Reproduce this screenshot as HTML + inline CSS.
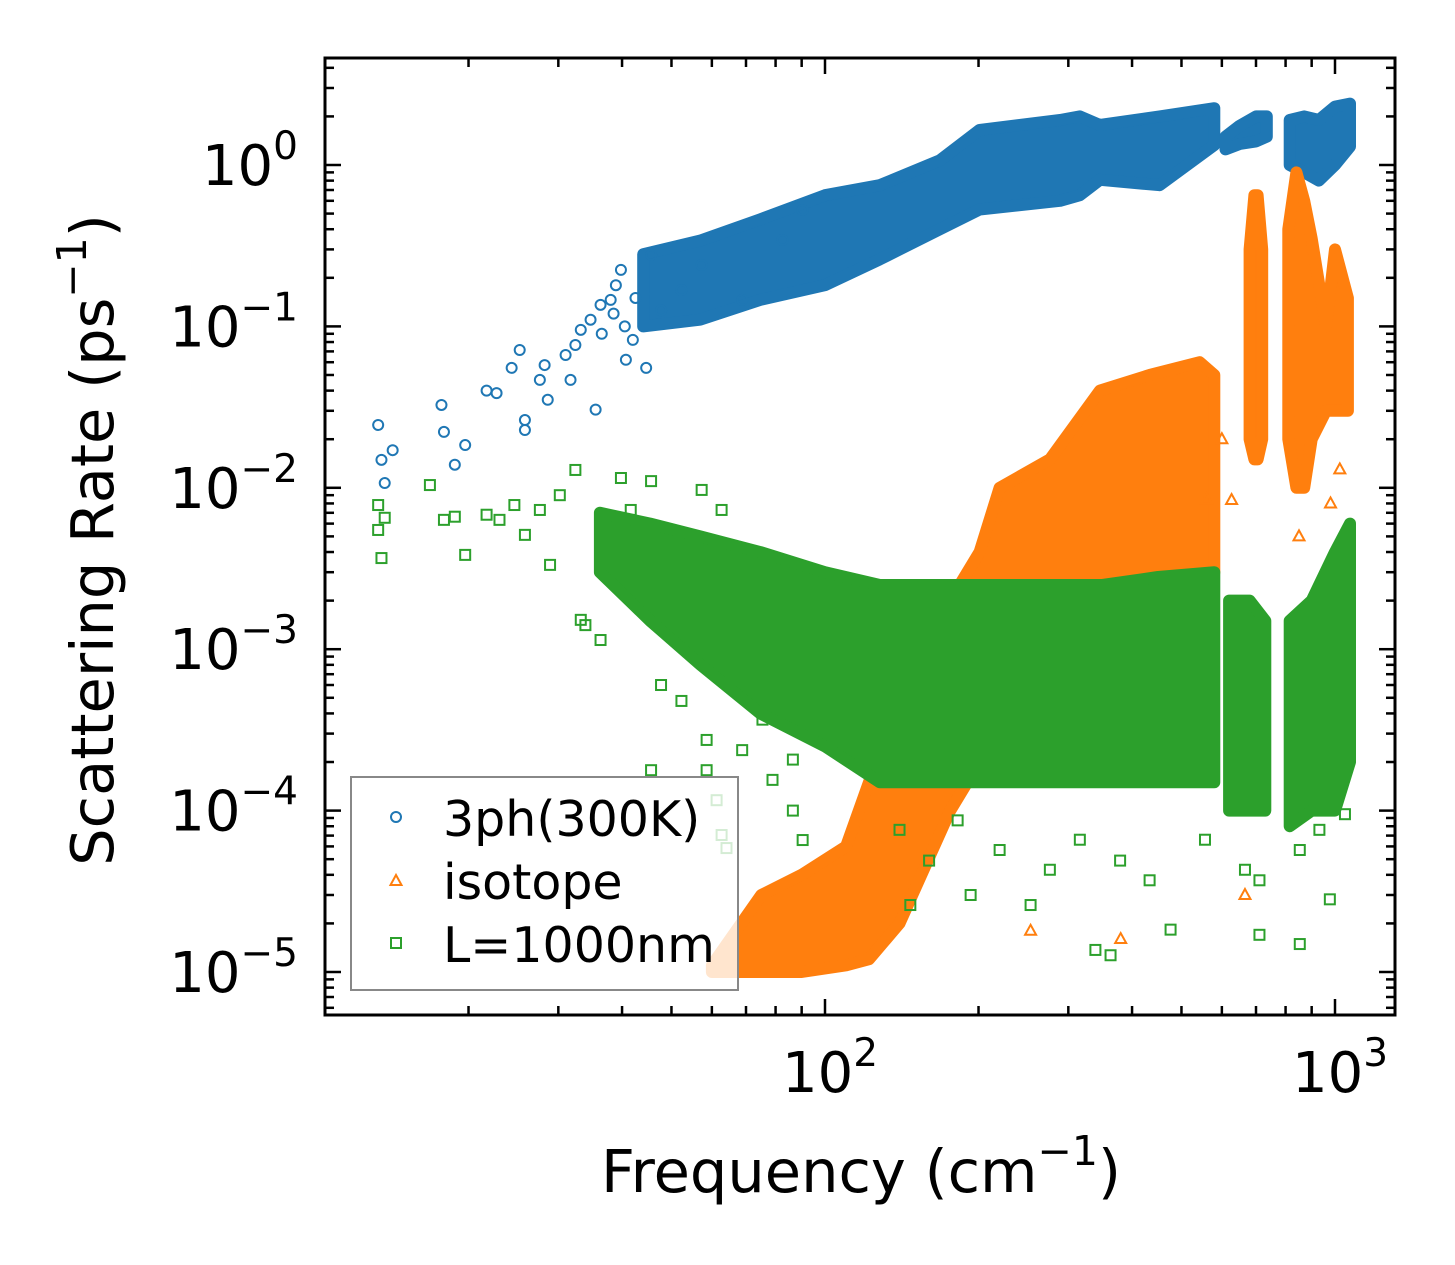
<!DOCTYPE html>
<html><head><meta charset="utf-8">
<style>
html,body{margin:0;padding:0;background:#fff;}
svg{display:block;font-family:"DejaVu Sans","Liberation Sans",sans-serif;}
</style></head>
<body>
<svg id="chart" width="1455" height="1265" viewBox="0 0 1455 1265" xmlns="http://www.w3.org/2000/svg">
<rect x="0" y="0" width="1455" height="1265" fill="#fff"/>
<g id="plot"></g>
<g id="axes"></g>
</svg>
<script>
// ---- data ----
const blueBandF  = [44,56.9,74.6,100,128,168,201,289,316,346,453,580];
const blueBandHi = [0.28,0.34,0.46,0.65,0.75,1.07,1.65,1.9,2.0,1.77,2.0,2.25];
const blueBandLo = [0.1,0.11,0.146,0.18,0.26,0.40,0.53,0.6,0.65,0.81,0.75,1.33];
const blueBlob2F  = [610,650,700,735];
const blueBlob2Hi = [1.5,1.75,2.0,2.0];
const blueBlob2Lo = [1.25,1.35,1.4,1.5];
const blueBlob3F  = [815,870,930,1000,1070];
const blueBlob3Hi = [1.9,2.0,1.9,2.3,2.4];
const blueBlob3Lo = [1.0,0.9,0.8,1.0,1.3];
const bluePtsF = [13.3,13.5,14.2,13.7,17.7,17.9,18.8,19.7,21.7,22.7,24.3,25.2,25.8,25.8,27.6,28.2,28.6,31.0,31.7,32.4,33.2,34.7,35.5,36.3,38.0,38.9,39.8,40.7,42.0,44.6,45.6,47.7,52.3,57.3,68.8,82.5,90.4,36.5,38.5,40.5,42.5];
const bluePtsR = [0.0245,0.0149,0.0171,0.0107,0.0326,0.0222,0.0139,0.0184,0.040,0.0386,0.0553,0.0714,0.0228,0.0263,0.0466,0.0576,0.0351,0.0665,0.0466,0.0767,0.0952,0.110,0.0305,0.136,0.146,0.180,0.224,0.0621,0.0825,0.0553,0.277,0.126,0.168,0.240,0.146,0.343,0.526,0.09,0.12,0.1,0.15];

const orangeBandF  = [60,75,90,110,122,140,176,201,220,276,346,433,543,580];
const orangeBandHi = [1.1e-5,3e-5,4e-5,6e-5,1.5e-4,5e-4,2e-3,4e-3,1e-2,1.5e-2,4e-2,5e-2,6e-2,5e-2];
const orangeBandLo = [1e-5,1e-5,1e-5,1.1e-5,1.2e-5,2e-5,1e-4,2e-4,2.5e-4,3e-4,3e-4,5e-4,1e-3,3e-3];
const orangeSpike1F  = [680,695,705,720];
const orangeSpike1Hi = [0.3,0.65,0.65,0.3];
const orangeSpike1Lo = [0.02,0.015,0.015,0.02];
const orangeSpike2F  = [810,840,870,900,960,1000,1060];
const orangeSpike2Hi = [0.4,0.9,0.6,0.35,0.1,0.3,0.15];
const orangeSpike2Lo = [0.02,0.01,0.01,0.02,0.03,0.03,0.03];
const orangePtsF = [253,380,666,627,1022,560,600,850,980];
const orangePtsR = [1.8e-5,1.6e-5,3e-5,0.0084,0.013,0.0085,0.02,0.005,0.008];

const greenBandF  = [36.2,45.4,57,74.6,100,128,168,250,350,450,580];
const greenBandHi = [7e-3,6e-3,5e-3,4e-3,3e-3,2.5e-3,2.5e-3,2.5e-3,2.5e-3,2.8e-3,3e-3];
const greenBandLo = [3e-3,1.5e-3,8e-4,4e-4,2.5e-4,1.5e-4,1.5e-4,1.5e-4,1.5e-4,1.5e-4,1.5e-4];
const greenBlob2F  = [620,680,730];
const greenBlob2Hi = [2e-3,2e-3,1.5e-3];
const greenBlob2Lo = [1e-4,1e-4,1e-4];
const greenBlob3F  = [815,900,1000,1070];
const greenBlob3Hi = [1.5e-3,2e-3,4e-3,6e-3];
const greenBlob3Lo = [8e-5,1e-4,1e-4,2e-4];
const greenPtsF = [13.3,13.3,13.5,13.7,16.8,17.9,18.8,19.7,21.7,23.0,24.6,25.8,27.6,28.9,30.2,32.4,33.2,33.9,36.3,39.8,41.6,45.6,47.7,52.3,57.3,58.6,62.7,68.8,75.4,78.9,86.5,97.8,45.6,58.6,61.3,62.7,64.1,86.5,90.4,147,193,253,339,363,476,711,853,977,140,160,182,220,276,316,379,433,556,666,711,853,932,1046];
const greenPtsR = [0.00782,0.00548,0.00367,0.00652,0.0104,0.00633,0.00662,0.00384,0.00681,0.00633,0.00782,0.00511,0.00729,0.00333,0.009,0.0129,0.00152,0.00141,0.00114,0.0115,0.00729,0.011,0.0006,0.000478,0.0097,0.000274,0.00729,0.000237,0.000366,0.000155,0.000207,0.000274,0.000178,0.000178,0.000116,0.0000706,0.0000586,0.0001,0.0000657,0.000026,0.00003,0.000026,0.0000137,0.0000127,0.0000183,0.000017,0.0000149,0.0000282,7.6e-5,4.9e-5,8.7e-5,5.7e-5,4.3e-5,6.6e-5,4.9e-5,3.7e-5,6.6e-5,4.3e-5,3.7e-5,5.7e-5,7.6e-5,9.5e-5];

const xTickVals = [100,1000];
const xTickExp  = ["2","3"];
const yTickVals = [1,0.1,0.01,0.001,0.0001,0.00001];
const yTickExp  = ["0","\u22121","\u22122","\u22123","\u22124","\u22125"];

// ---- axes ----
const L=325,R=1395,T=58,B=1015;
const xs = f => 825 + (Math.log10(f)-2)*510;
const ys = r => 165 - Math.log10(r)*161.4;
const NS="http://www.w3.org/2000/svg";
const plot=document.getElementById('plot'), axes=document.getElementById('axes');
function mk(tag, attrs, parent){const e=document.createElementNS(NS,tag);for(const k in attrs)e.setAttribute(k,attrs[k]);parent.appendChild(e);return e;}

function band(F,Hi,Lo,color,name){
  const pts=[];
  for(let i=0;i<F.length;i++) pts.push(xs(F[i]).toFixed(1)+','+ys(Hi[i]).toFixed(1));
  for(let i=F.length-1;i>=0;i--) pts.push(xs(F[i]).toFixed(1)+','+ys(Lo[i]).toFixed(1));
  const p=mk('polygon',{points:pts.join(' '),fill:color,stroke:color,'stroke-width':12,'stroke-linejoin':'round'},plot);
  
  
}
function pts(F,Rr,color,shape,name){
  for(let i=0;i<F.length;i++){
    const x=xs(F[i]), y=ys(Rr[i]); let e;
    if(shape==='c') e=mk('circle',{cx:x,cy:y,r:5,fill:'none',stroke:color,'stroke-width':2},plot);
    else if(shape==='s') e=mk('rect',{x:x-5,y:y-5,width:10,height:10,fill:'none',stroke:color,'stroke-width':2},plot);
    else e=mk('polygon',{points:`${x},${y-6} ${x-5.5},${y+4} ${x+5.5},${y+4}`,fill:'none',stroke:color,'stroke-width':2},plot);
    
    
  }
}
const BLUE='#1f77b4', ORANGE='#ff7f0e', GREEN='#2ca02c';
band(blueBandF,blueBandHi,blueBandLo,BLUE,'3ph-band');
band(blueBlob2F,blueBlob2Hi,blueBlob2Lo,BLUE,'3ph-band');
band(blueBlob3F,blueBlob3Hi,blueBlob3Lo,BLUE,'3ph-band');
pts(bluePtsF,bluePtsR,BLUE,'c','3ph-point');
band(orangeBandF,orangeBandHi,orangeBandLo,ORANGE,'isotope-band');
band(orangeSpike1F,orangeSpike1Hi,orangeSpike1Lo,ORANGE,'isotope-band');
band(orangeSpike2F,orangeSpike2Hi,orangeSpike2Lo,ORANGE,'isotope-band');
pts(orangePtsF,orangePtsR,ORANGE,'t','isotope-point');
band(greenBandF,greenBandHi,greenBandLo,GREEN,'boundary-band');
band(greenBlob2F,greenBlob2Hi,greenBlob2Lo,GREEN,'boundary-band');
band(greenBlob3F,greenBlob3Hi,greenBlob3Lo,GREEN,'boundary-band');
pts(greenPtsF,greenPtsR,GREEN,'s','boundary-point');

// clip overflow: white masks outside frame
mk('rect',{x:0,y:0,width:1455,height:T,fill:'#fff'},axes);
mk('rect',{x:0,y:B,width:1455,height:1265-B,fill:'#fff'},axes);
mk('rect',{x:R,y:0,width:60,height:1265,fill:'#fff'},axes);

// frame
const fr=mk('rect',{x:L,y:T,width:R-L,height:B-T,fill:'none',stroke:'#000','stroke-width':3},axes);



// ticks
function tickX(x,len){mk('line',{x1:x,y1:B,x2:x,y2:B-len,stroke:'#000','stroke-width':2.5},axes);mk('line',{x1:x,y1:T,x2:x,y2:T+len,stroke:'#000','stroke-width':2.5},axes);}
function tickY(y,len){mk('line',{x1:L,y1:y,x2:L+len,y2:y,stroke:'#000','stroke-width':2.5},axes);mk('line',{x1:R,y1:y,x2:R-len,y2:y,stroke:'#000','stroke-width':2.5},axes);}
for(let d=1;d<=3;d++)for(let m=1;m<10;m++){const v=m*Math.pow(10,d);const x=xs(v);if(x>L+2&&x<R-2)tickX(x,m===1?16:9);}
for(let d=-6;d<=0;d++)for(let m=1;m<10;m++){const v=m*Math.pow(10,d);const y=ys(v);if(y>T+2&&y<B-2)tickY(y,m===1?16:9);}

// tick labels
xTickVals.forEach((v,i)=>{
  const t=mk('text',{x:xs(v)+5,y:1092,'font-size':56,'text-anchor':'middle',fill:'#000'},axes);
  
  
  t.innerHTML='10<tspan font-size="39" dy="-26">'+xTickExp[i]+'</tspan>';
});
yTickVals.forEach((v,i)=>{
  const t=mk('text',{x:298,y:ys(v)+20,'font-size':56,'text-anchor':'end',fill:'#000'},axes);
  
  
  t.innerHTML='10<tspan font-size="39" dy="-26">'+yTickExp[i]+'</tspan>';
});
</script>
<svg style="position:absolute;left:0;top:0" width="1455" height="1265">
  <text x="861" y="1192" font-size="59" text-anchor="middle" font-family="DejaVu Sans, Liberation Sans, sans-serif">Frequency (cm<tspan font-size="41" dy="-27">−1</tspan><tspan dy="27">)</tspan></text>
  <text transform="translate(113,540) rotate(-90)" font-size="59" text-anchor="middle" font-family="DejaVu Sans, Liberation Sans, sans-serif">Scattering Rate (ps<tspan font-size="41" dy="-27">−1</tspan><tspan dy="27">)</tspan></text>
  <g>
    <rect x="351" y="777" width="387" height="213" fill="rgba(255,255,255,0.8)" stroke="#888" stroke-width="2"/>
    <circle cx="396" cy="817" r="5" fill="none" stroke="#1f77b4" stroke-width="2"/>
    <text x="443" y="836" font-size="49" font-family="DejaVu Sans, Liberation Sans, sans-serif">3ph(300K)</text>
    <polygon points="396,875 390.5,885 401.5,885" fill="none" stroke="#ff7f0e" stroke-width="2"/>
    <text x="443" y="899" font-size="49" font-family="DejaVu Sans, Liberation Sans, sans-serif">isotope</text>
    <rect x="391" y="938" width="10" height="10" fill="none" stroke="#2ca02c" stroke-width="2"/>
    <text x="443" y="962" font-size="49" font-family="DejaVu Sans, Liberation Sans, sans-serif">L=1000nm</text>
  </g>
</svg>
</body></html>
